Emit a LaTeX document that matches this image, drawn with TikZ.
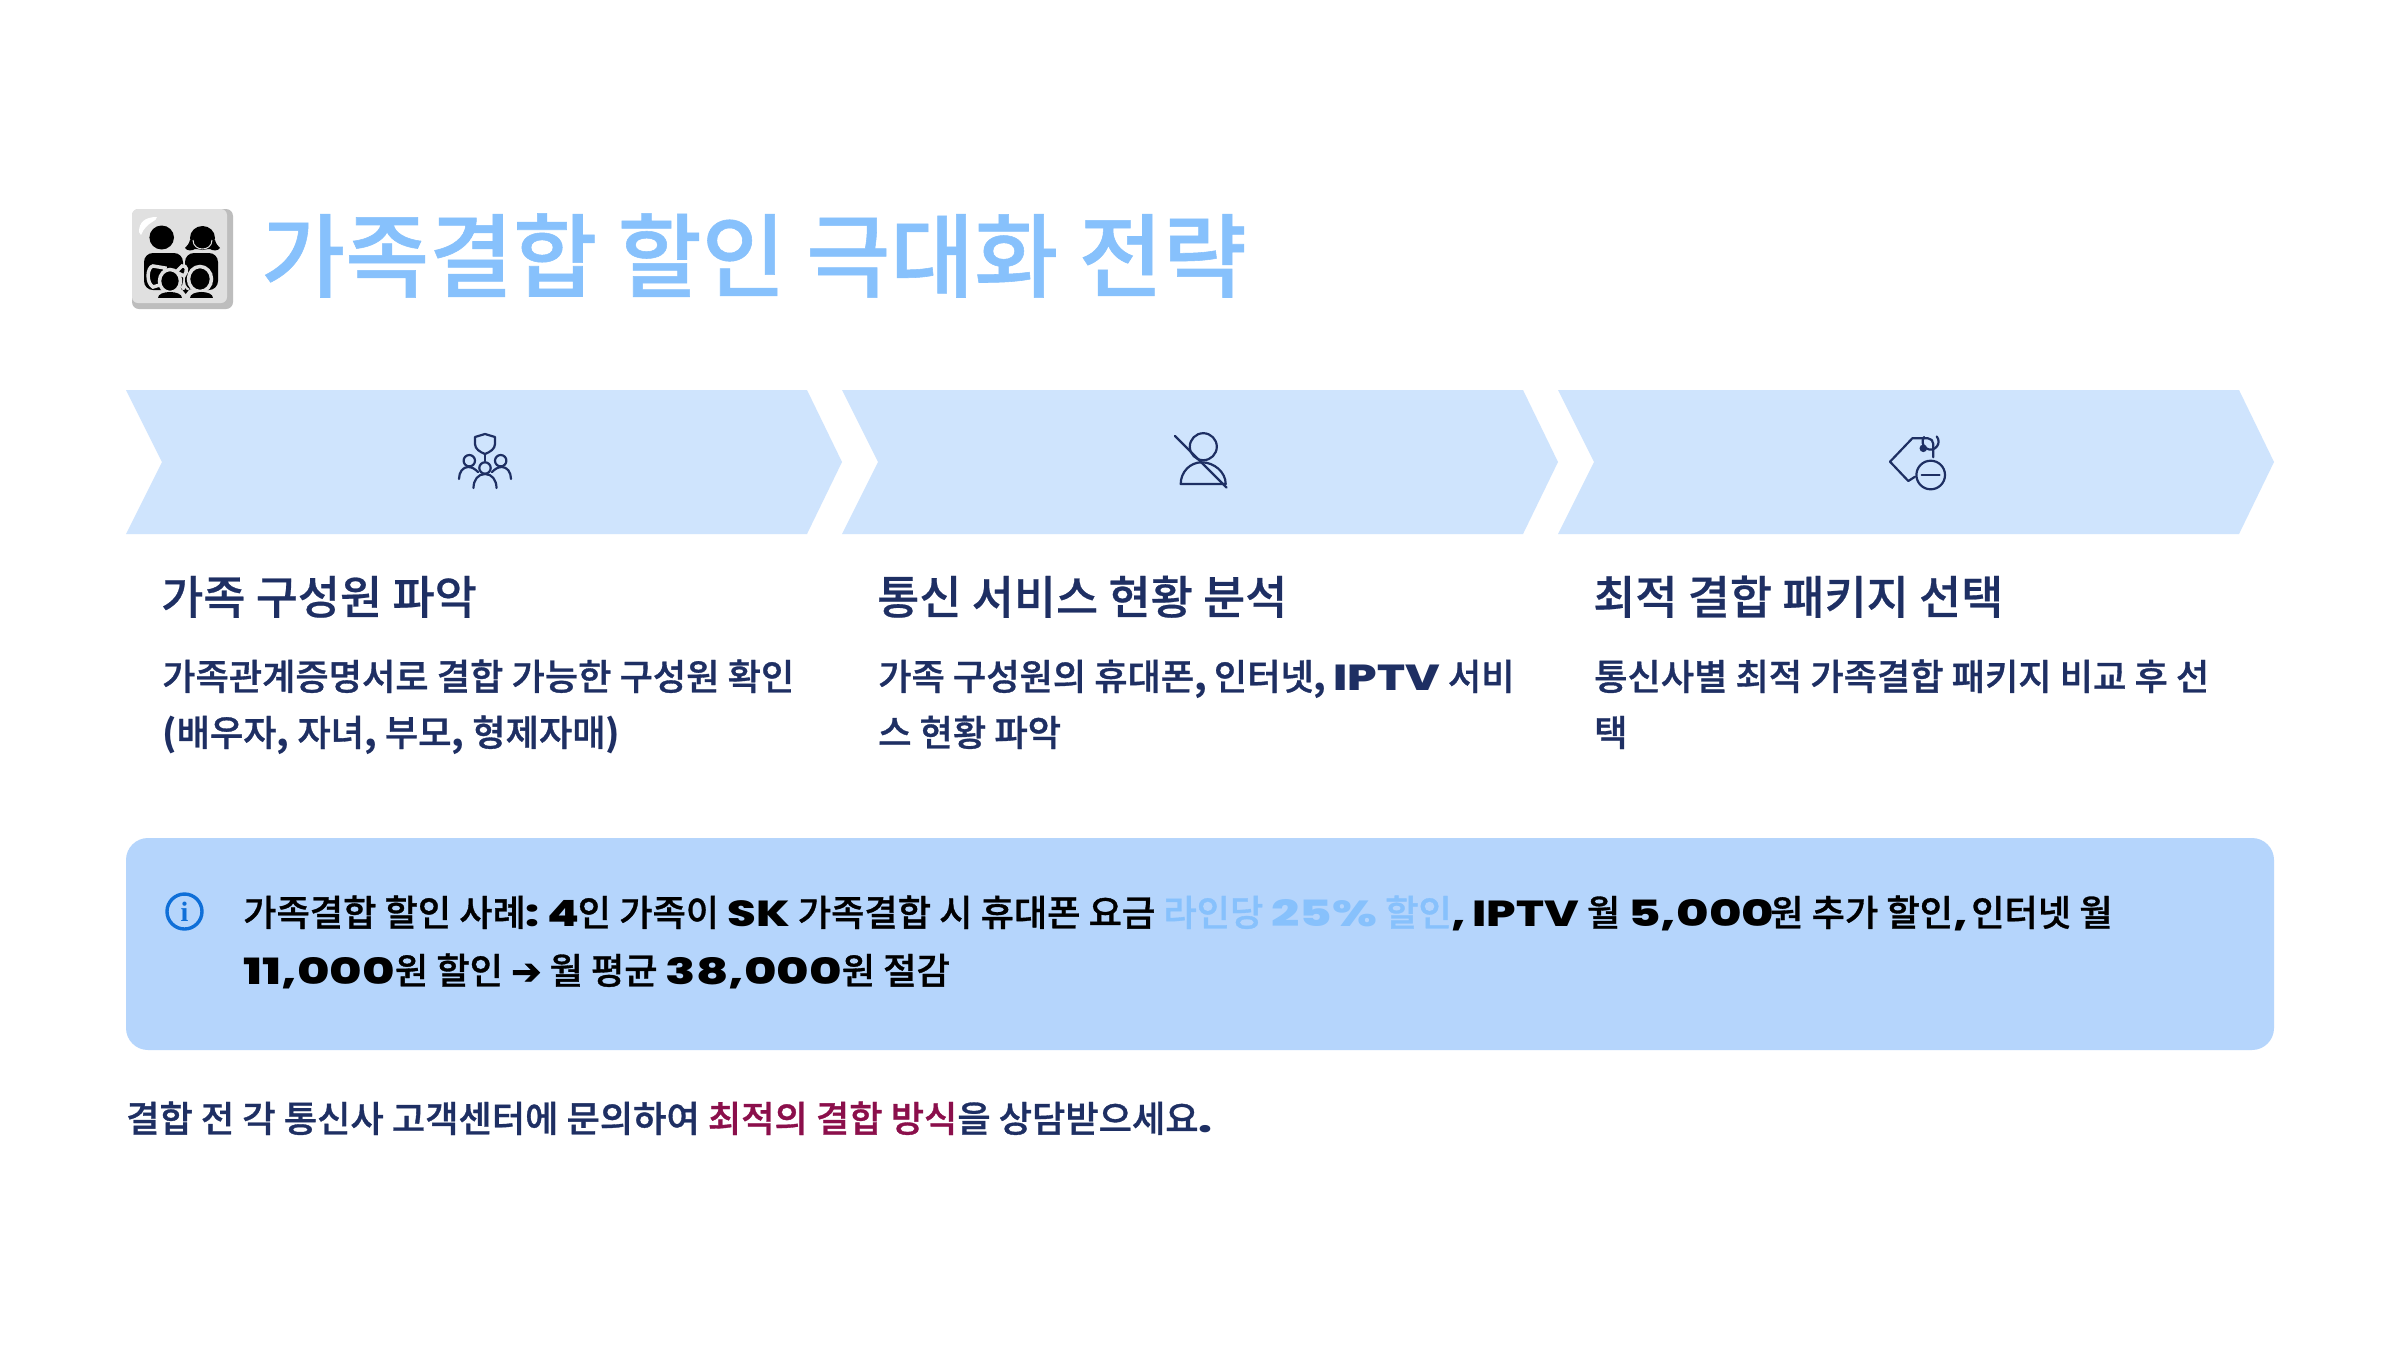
\documentclass[tikz,border=0pt]{standalone}
\usepackage{fontspec}
\setmainfont{Noto Sans CJK KR}
\newfontfamily\midfont{Noto Sans CJK KR Medium}[FakeBold=0.5]
\newfontfamily\bodyfont{Noto Sans CJK KR Medium}[FakeBold=0.9]
\newfontfamily\titlefont{Noto Sans CJK KR Medium}[FakeBold=0.6]
\newfontfamily\latinbold{Poppins ExtraBold}[FakeStretch=1.28]
\newfontfamily\digitbold{Poppins ExtraBold}[FakeStretch=1.37]
\newfontfamily\arrowfont{DejaVu Sans}[FakeBold=2]
\newfontfamily\infofont{Liberation Serif}
\definecolor{navy}{HTML}{1E2F63}
\definecolor{sky}{HTML}{87C1FC}
\definecolor{palesky}{HTML}{CFE4FD}
\definecolor{notebg}{HTML}{B5D5FC}
\definecolor{berry}{HTML}{8B0F4B}
\definecolor{infoblue}{HTML}{0F6FD8}
\definecolor{tile}{HTML}{E0E0E0}
\definecolor{tileshade}{HTML}{BDBDBD}
\newcommand{\lat}[1]{{\latinbold #1}}
\newcommand{\dig}[1]{{\digitbold #1}}
\newcommand{\pun}[1]{{\rmfamily\bfseries #1}}
\begin{document}
\begin{tikzpicture}[x=1pt,y=-1pt,
  ico/.style={draw=navy,line width=2.2pt,line cap=round,line join=round},
  kid/.style={draw=tile,line width=3.5pt,fill=black},
  head/.style={anchor=base west,text=navy,font=\fontsize{45.8}{45.8}\midfont,inner sep=0pt},
  body/.style={anchor=base west,text=navy,font=\fontsize{36.2}{36.2}\bodyfont,inner sep=0pt},
  note/.style={anchor=base west,text=black,font=\fontsize{36.2}{36.2}\bodyfont,inner sep=0pt}]
  \useasboundingbox (0,0) rectangle (2400,1350);
  \fill[white] (0,0) rectangle (2400,1350);
  \fill[tileshade,rounded corners=7pt] (132,209) rectangle (233,309);
  \fill[tile,rounded corners=6pt] (132,209) rectangle (227,303);
  \fill[white] (139,232) .. controls (139,222) and (145,217) .. (157,217) .. controls (158,221) and (146,222) .. (141,235) -- cycle;
  \fill (161.7,237.5) ellipse (12.3 and 12);
  \fill (202.5,238) ellipse (12.5 and 12);
  \fill (190,240) .. controls (189,244) and (187,246) .. (185,248) .. controls (187,251) and (192,251) .. (195,249) -- (210,249) .. controls (213,251) and (218,251) .. (220,248) .. controls (218,246) and (216,244) .. (215,240) -- cycle;
  \draw[tile,line width=1pt] (193,240) .. controls (193,252) and (212,252) .. (212,240);
  \fill[rounded corners=9pt] (144,253) rectangle (183,290);
  \fill[rounded corners=9pt] (185,253) rectangle (218,290);
  \draw[kid] (165,268) -- (153,266) .. controls (147,267) and (146,283) .. (153,287) -- (163,284) -- cycle;
  \draw[kid] (176,272) -- (182,266) .. controls (187,265) and (188,271) .. (184,276) -- cycle;
  \draw[kid] (170,281) ellipse (10.5 and 11.5);
  \draw[kid] (200,279) ellipse (11.5 and 12.5);
  \fill (158,298) .. controls (158,290) and (182,290) .. (182,298) -- cycle;
  \fill (190,298) .. controls (190,290) and (213,290) .. (213,298) -- cycle;
  \fill (185.7,294) -- (181,288) arc (180:0:2.3) arc (180:0:2.3) -- cycle;
  \node[anchor=base west,text=sky,inner sep=0pt,font=\fontsize{91.3}{91.3}\titlefont] (title) at (261,290) {가족결합 할인 극대화 전략};
  \foreach \x in {126,842,1558}
    \fill[palesky] (\x,390) -- ++(681,0) -- ++(35,72) -- ++(-35,72) -- ++(-681,0) -- ++(36,-72) -- cycle;
  \draw[ico] (485,434) -- (475,437) -- (475,444) .. controls (475,449) and (480,452) .. (485,454) .. controls (490,452) and (495,449) .. (495,444) -- (495,437) -- cycle;
  \draw[ico] (485,454) -- (485,461);
  \draw[ico] (485,468) circle (5.7);
  \draw[ico] (469.3,460.7) circle (5.7);
  \draw[ico] (500.7,460.7) circle (5.7);
  \draw[ico] (459,479) .. controls (459,472) and (463,467) .. (468,467) .. controls (472,467) and (475,469) .. (478,472);
  \draw[ico] (511,479) .. controls (511,472) and (507,467) .. (502,467) .. controls (498,467) and (495,469) .. (492,472);
  \draw[ico] (473.5,488) .. controls (473.5,480) and (478,474) .. (485,474) .. controls (492,474) and (496.5,480) .. (496.5,488);
  \draw[ico] (1203.3,446.7) circle (13.5);
  \draw[ico] (1175,436) -- (1226.7,487.7);
  \draw[ico] (1180.7,484) .. controls (1180.7,472) and (1190,462.3) .. (1201.7,462.3) .. controls (1214,462.3) and (1225.7,472) .. (1225.7,484) -- cycle;
  \draw[ico] (1915,476.7) -- (1908.3,481) -- (1890,461.7) -- (1912.3,438.3) -- (1928,438.3) .. controls (1931,438.3) and (1933.3,441) .. (1933.3,444) -- (1933.3,457.3);
  \fill[navy] (1923.3,448.3) circle (3.8);
  \draw[ico] (1924,437) arc (215:-40:8);
  \draw[ico] (1930.7,475) circle (14.3);
  \draw[ico] (1921.7,475) -- (1939.5,475);
  \foreach \x/\n/\l in {161/a/가족 구성원 파악,877/b/통신 서비스 현황 분석,1593/c/최적 결합 패키지 선택}
    \node[head] (h\n) at (\x,614) {\l};
  \node[body] (t1a) at (162,690) {가족관계증명서로 결합 가능한 구성원 확인};
  \node[body] (t1b) at (162,746) {\pun{(}배우자\pun{,} 자녀\pun{,} 부모\pun{,} 형제자매\pun{)}};
  \node[body] (t2a) at (878,690) {가족 구성원의 휴대폰\pun{,}\kern-1.2pt{} 인터넷\pun{,}\kern-1.2pt{} \lat{IPTV} 서비};
  \node[body] (t2b) at (878,746) {스 현황 파악};
  \node[body] (t3a) at (1594,690) {통신사별 최적 가족결합 패키지 비교 후 선};
  \node[body] (t3b) at (1594,746) {택};
  \fill[notebg,rounded corners=22pt] (126,838) rectangle (2274,1050);
  \draw[infoblue,line width=3.4pt] (184.5,911.5) circle (17.5);
  \node[inner sep=0pt,text=infoblue,font=\fontsize{28}{28}\infofont\bfseries] (infoi) at (184.5,911.5) {i};
  \node[note] (n1) at (243,926) {가족결합 할인 사례\lat{:}\kern-3pt{} \lat{4}\kern-2pt{}인 가족이 \lat{SK} 가족결합 시 휴대폰 요금 \textcolor{sky}{라인당 \dig{25\%} 할인}\lat{,}\kern-2pt{} \lat{IPTV} 월 \dig{5,000}\kern-4pt{}원 추가 할인\lat{,}\kern-4.5pt{} 인터넷 월};
  \node[note] (n2) at (243,984) {\dig{11,000}원 할인 {\arrowfont ➔} 월 평균 \dig{38,000}원 절감};
  \node[body] (foot) at (126,1132) {결합 전 각 통신사 고객센터에 문의하여 \textcolor{berry}{최적의 결합 방식}을 상담받으세요\lat{.}};
\end{tikzpicture}
\end{document}
